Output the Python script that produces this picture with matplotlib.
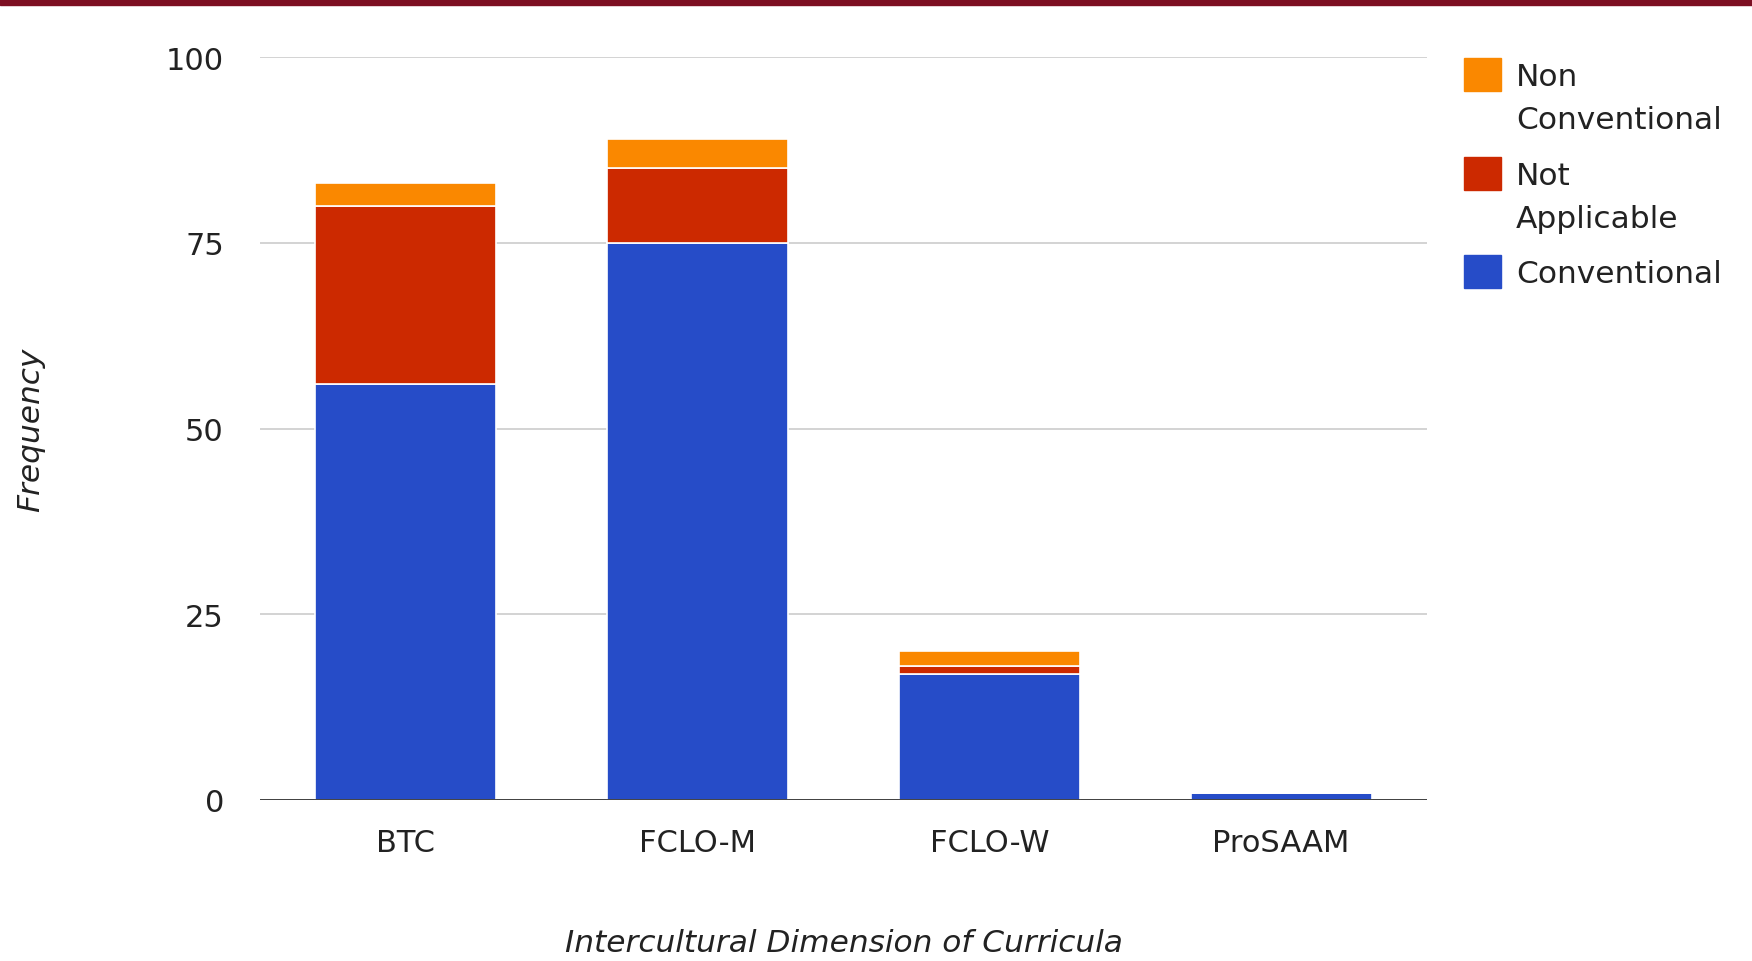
import matplotlib.pyplot as plt
import numpy as np
from matplotlib.patches import Rectangle

plt.rcParams["font.family"] = ["DejaVu Sans"]

categories = ["BTC", "FCLO-M", "FCLO-W", "ProSAAM"]
conventional = [56, 75, 17, 1]
not_applicable = [24, 10, 1, 0]
non_conventional = [3, 4, 2, 0]
y_ticks = [0, 25, 50, 75, 100]

SERIES = [
    ("Conventional", conventional, "#264CC8"),
    ("Not\nApplicable", not_applicable, "#CC2900"),
    ("Non\nConventional", non_conventional, "#FA8800"),
]
TEXT = "#222222"


def draw_legend(fig, entries):
    # entries listed top to bottom; square sits level with the first text line
    W, H = fig.bbox.width, fig.bbox.height
    tops = [59, 158, 256]
    for (label, color), top in zip(entries, tops):
        fig.patches.append(
            Rectangle((1464 / W, 1 - (top + 33) / H), 37 / W, 33 / H,
                      transform=fig.transFigure, color=color)
        )
        fig.text(1516 / W, 1 - (top + 4) / H, label, fontsize=22.5,
                 color=TEXT, va="top", ha="left", linespacing=1.62)


def main() -> None:
    fig = plt.figure(figsize=(17.52, 9.62), dpi=100)
    fig.patches.append(
        Rectangle((0, 0.994), 1, 0.006, transform=fig.transFigure,
                  color="#7D0F22", zorder=5)
    )
    ax = fig.add_axes([260 / 1752, 1 - 801 / 962, 1167 / 1752, 743 / 962])

    x = np.arange(len(categories))
    width = 0.62
    bottom = np.zeros(len(categories))
    for label, values, color in SERIES:
        vals = np.array(values, dtype=float)
        ax.bar(x, vals, width, bottom=bottom, color=color,
               edgecolor="white", linewidth=1.2, zorder=3)
        bottom += vals

    ax.set_xlim(-0.5, len(categories) - 0.5)
    ax.set_ylim(0, 100)
    ax.set_yticks(y_ticks)
    ax.yaxis.grid(True, color="#CCCCCC", linewidth=1.2, zorder=0)
    ax.axhline(0, color="#333333", linewidth=2.0, zorder=4)
    for spine in ax.spines.values():
        spine.set_visible(False)
    ax.tick_params(length=0, labelsize=22, colors=TEXT)
    ax.tick_params(axis="y", pad=26)
    ax.tick_params(axis="x", pad=20)
    ax.set_xticks(x, categories)

    ax.set_xlabel("Intercultural Dimension of Curricula", fontsize=22.5,
                  style="italic", color=TEXT)
    ax.xaxis.set_label_coords(0.5, (801 - 944) / 743)
    ax.xaxis.label.set_va("center")
    ax.set_ylabel("Frequency", fontsize=22.5, style="italic", color=TEXT)
    ax.yaxis.set_label_coords((31 - 260) / 1167, 0.5)
    ax.yaxis.label.set_va("center")

    draw_legend(fig, [(lbl, col) for lbl, _, col in reversed(SERIES)])

    fig.savefig("out.png", dpi=100)
    plt.close(fig)


if __name__ == "__main__":
    main()
